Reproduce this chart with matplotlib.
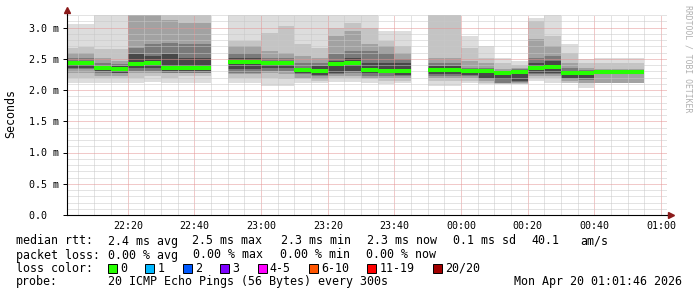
import numpy as np
import matplotlib.pyplot as plt
from matplotlib.patches import Rectangle
from matplotlib.ticker import FixedLocator, MultipleLocator

MONO = "DejaVu Sans Mono"

# end of each 5 minute step (22:50 and 23:50 are missing)
steps = ["22:05", "22:10", "22:15", "22:20", "22:25", "22:30", "22:35", "22:40", "22:45",
         "22:55", "23:00", "23:05", "23:10", "23:15", "23:20", "23:25", "23:30", "23:35",
         "23:40", "23:45",
         "23:55", "00:00", "00:05", "00:10", "00:15", "00:20", "00:25", "00:30", "00:35",
         "00:40", "00:45", "00:50", "00:55"]

# smoke bands in ms, from outer (max/min ping) to inner
ping_max = [3.06, 3.05, 3.40, 3.40, 3.80, 3.80, 3.60, 3.60, 3.60,
            3.50, 3.50, 3.50, 3.50, 3.50, 3.50, 3.50, 3.50, 3.50, 2.95, 2.95,
            3.50, 3.50, 2.87, 2.71, 2.51, 2.46, 3.16, 3.50, 2.74, 2.49, 2.51, 2.52, 2.52]
band1_hi = [2.68, 2.69, 2.66, 2.65, 3.50, 3.50, 3.40, 3.40, 3.40,
            2.79, 2.79, 2.92, 3.03, 2.74, 2.68, 3.00, 3.08, 3.00, 2.79, 2.71,
            3.30, 3.30, 2.68, 2.51, 2.43, 2.40, 3.11, 2.87, 2.60, 2.44, 2.43, 2.43, 2.43]
band2_hi = [2.60, 2.60, 2.51, 2.47, 3.30, 3.30, 3.12, 3.08, 3.08,
            2.71, 2.71, 2.63, 2.60, 2.55, 2.52, 2.87, 2.95, 2.74, 2.71, 2.60,
            2.51, 2.51, 2.47, 2.43, 2.33, 2.36, 2.81, 2.70, 2.44, 2.35, 2.33, 2.33, 2.33]
band3_hi = [2.52, 2.52, 2.44, 2.41, 2.68, 2.74, 2.76, 2.74, 2.74,
            2.60, 2.60, 2.52, 2.52, 2.43, 2.43, 2.58, 2.63, 2.63, 2.60, 2.50,
            2.44, 2.44, 2.36, 2.35, 2.31, 2.33, 2.52, 2.55, 2.35, 2.32, 2.31, 2.31, 2.31]
band4_hi = [2.47, 2.47, 2.39, 2.38, 2.58, 2.55, 2.58, 2.52, 2.52,
            2.51, 2.51, 2.47, 2.47, 2.36, 2.38, 2.47, 2.52, 2.44, 2.44, 2.43,
            2.39, 2.39, 2.33, 2.32, 2.30, 2.31, 2.44, 2.46, 2.31, 2.30, 2.30, 2.30, 2.30]
median = [2.44, 2.44, 2.35, 2.33, 2.42, 2.44, 2.36, 2.35, 2.35,
          2.45, 2.45, 2.43, 2.43, 2.32, 2.30, 2.41, 2.44, 2.32, 2.30, 2.30,
          2.32, 2.32, 2.30, 2.30, 2.28, 2.29, 2.36, 2.37, 2.28, 2.28, 2.29, 2.29, 2.29]
band4_lo = [2.36, 2.36, 2.30, 2.28, 2.35, 2.35, 2.30, 2.30, 2.30,
            2.33, 2.33, 2.36, 2.36, 2.27, 2.24, 2.28, 2.31, 2.27, 2.27, 2.24,
            2.25, 2.25, 2.24, 2.20, 2.17, 2.15, 2.28, 2.28, 2.20, 2.19, 2.28, 2.28, 2.28]
band3_lo = [2.33, 2.33, 2.28, 2.27, 2.31, 2.31, 2.28, 2.28, 2.28,
            2.28, 2.28, 2.31, 2.31, 2.25, 2.22, 2.25, 2.28, 2.23, 2.23, 2.22,
            2.23, 2.23, 2.22, 2.18, 2.12, 2.13, 2.25, 2.25, 2.17, 2.16, 2.27, 2.27, 2.27]
band2_lo = [2.28, 2.28, 2.23, 2.23, 2.27, 2.27, 2.27, 2.27, 2.27,
            2.25, 2.25, 2.27, 2.25, 2.20, 2.17, 2.23, 2.23, 2.20, 2.19, 2.19,
            2.19, 2.19, 2.19, 2.15, 2.11, 2.11, 2.22, 2.22, 2.14, 2.12, 2.12, 2.12, 2.12]
band1_lo = [2.20, 2.20, 2.20, 2.20, 2.20, 2.22, 2.20, 2.22, 2.22,
            2.20, 2.20, 2.20, 2.17, 2.17, 2.15, 2.19, 2.19, 2.17, 2.15, 2.15,
            2.15, 2.15, 2.15, 2.12, 2.10, 2.10, 2.19, 2.19, 2.12, 2.11, 2.12, 2.12, 2.12]
ping_min = [2.12, 2.12, 2.11, 2.11, 2.11, 2.13, 2.11, 2.12, 2.12,
            2.11, 2.11, 2.07, 2.06, 2.12, 2.12, 2.13, 2.13, 2.11, 2.09, 2.11,
            2.06, 2.06, 2.12, 2.10, 2.09, 2.09, 2.15, 2.12, 2.11, 2.04, 2.12, 2.12, 2.12]

x_ticks = ["22:20", "22:40", "23:00", "23:20", "23:40", "00:00", "00:20", "00:40", "01:00"]
y_ticks = [0.0, 0.5, 1.0, 1.5, 2.0, 2.5, 3.0]
y_labels = ["0.0  ", "0.5 m", "1.0 m", "1.5 m", "2.0 m", "2.5 m", "3.0 m"]

loss_labels = ["0", "1", "2", "3", "4-5", "6-10", "11-19", "20/20"]
loss_colors = ["#26ff00", "#00b8ff", "#0059ff", "#7e00ff", "#ff00ff", "#ff5500", "#ff0000", "#a10000"]

rtt_items = ["2.4 ms avg", "2.5 ms max", "2.3 ms min", "2.3 ms now", "0.1 ms sd", "40.1", "am/s"]
loss_items = ["0.00 % avg", "0.00 % max", "0.00 % min", "0.00 % now"]
probe_text = "20 ICMP Echo Pings (56 Bytes) every 300s"
stamp = "Mon Apr 20 01:01:46 2026"


def to_min(t):
    h, m = map(int, t.split(":"))
    if h < 12:
        h += 24
    return (h - 22) * 60 + m


end = np.array([to_min(t) for t in steps], float)
start = end - 5
t0 = to_min("22:01") + 46 / 60
t1 = t0 + 180

W, H = 697, 297
fig = plt.figure(figsize=(W / 100, H / 100), dpi=100)
ax = fig.add_axes([67 / W, 1 - 215 / H, 600 / W, 200 / H])

# contiguous runs (gaps where a step is missing)
breaks = np.where(start[1:] != end[:-1])[0] + 1
runs = np.split(np.arange(len(steps)), breaks)

levels = [(ping_min, ping_max, "#dddddd"),
          (band1_lo, band1_hi, "#c4c4c4"),
          (band2_lo, band2_hi, "#a2a2a2"),
          (band3_lo, band3_hi, "#7a7a7a"),
          (band4_lo, band4_hi, "#484848")]
for lo, hi, col in levels:
    lo, hi = np.array(lo), np.array(hi)
    for r in runs:
        xs = np.append(start[r], end[r][-1])
        ax.fill_between(xs, np.append(lo[r], lo[r][-1]), np.append(hi[r], hi[r][-1]),
                        step="post", color=col, lw=0, zorder=1)

ax.hlines(median, start, end, colors=loss_colors[0], lw=2.9, zorder=3, capstyle="butt")

ax.set_xlim(t0, t1)
ax.set_ylim(0, 3.2)
ax.xaxis.set_major_locator(FixedLocator([to_min(t) for t in x_ticks]))
ax.xaxis.set_minor_locator(MultipleLocator(5))
ax.set_xticklabels(x_ticks)
ax.yaxis.set_major_locator(FixedLocator(y_ticks))
ax.yaxis.set_minor_locator(MultipleLocator(0.1))
ax.set_yticklabels(y_labels)

ax.set_axisbelow(False)
ax.grid(which="minor", color="#c8c8c8", ls=(0, (1, 1)), lw=0.72)
ax.grid(which="major", color="#e49494", ls=(0, (1, 1)), lw=0.72)

for s in ["top", "right"]:
    ax.spines[s].set_visible(False)
for s in ["left", "bottom"]:
    ax.spines[s].set_color("#000000")
    ax.spines[s].set_linewidth(0.8)
    ax.spines[s].set_zorder(4)

ax.tick_params(axis="x", which="both", length=0, pad=4.5, labelsize=7.2)
ax.tick_params(axis="y", which="major", length=3, width=0.7, pad=2.5, labelsize=7.2)
ax.tick_params(axis="y", which="minor", length=0)
for lab in ax.get_xticklabels() + ax.get_yticklabels():
    lab.set_family(MONO)

# axis arrows
px_y = 3.2 / 200
px_x = 180 / 600
ax.plot([t0, t0], [3.2, 3.2 + 4 * px_y], color="#000000", lw=0.8, clip_on=False)
ax.plot([t1, t1 + 3 * px_x], [0, 0], color="#000000", lw=0.8, clip_on=False)
ax.plot(t0, 3.2 + 5 * px_y, marker="^", ms=4.5, color="#8b1a1a", clip_on=False, zorder=5)
ax.plot(t1 + 4 * px_x, 0, marker=">", ms=4.5, color="#8b1a1a", clip_on=False, zorder=5)

fig.text(11 / W, 1 - 114 / H, "Seconds", rotation=90, ha="center", va="center",
         family=MONO, fontsize=8.4)
fig.text(688 / W, 1 - 59 / H, "RRDTOOL / TOBI OETIKER", rotation=270, ha="center",
         va="center", family=MONO, fontsize=5.9, color="#b0b0b0")

fs = 8.4
rows = [241, 255, 268, 282]


def put(x, row, s, **kw):
    fig.text(x / W, 1 - rows[row] / H, s, ha=kw.pop("ha", "left"), va="center",
             family=MONO, fontsize=fs, **kw)


put(16, 0, "median rtt:")
for x, s in zip([107.5, 192, 281, 367, 453, 531, 580], rtt_items):
    put(x, 0, s)
put(16, 1, "packet loss:")
for x, s in zip([108, 193.5, 280, 366], loss_items):
    put(x, 1, s)
put(16, 2, "loss color:")
x = 108
for lab, col in zip(loss_labels, loss_colors):
    fig.add_artist(Rectangle((x / W, 1 - (rows[2] + 4.5) / H), 9 / W, 9 / H,
                             transform=fig.transFigure, facecolor=col,
                             edgecolor="#000000", lw=0.7))
    put(x + 12, 2, lab)
    x += 12 + 7 * len(lab) + 18.4
put(16, 3, "probe:")
put(108, 3, probe_text)
put(682, 3, stamp, ha="right")

fig.savefig("out.png", dpi=100)
